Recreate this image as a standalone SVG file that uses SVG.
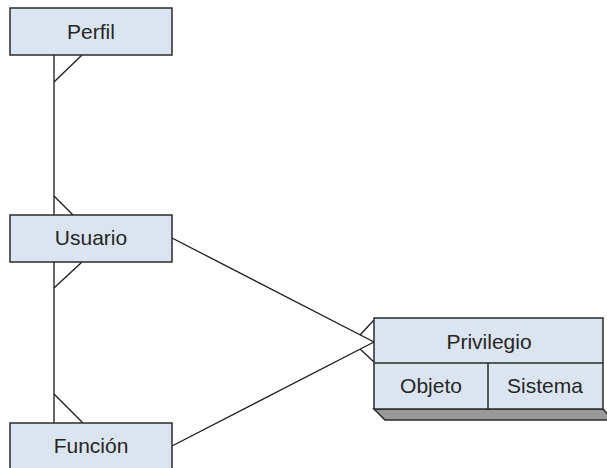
<svg xmlns="http://www.w3.org/2000/svg" width="607" height="468" viewBox="0 0 607 468">
<style>
.box{fill:#dbe5f1;stroke:#2b2b2b;stroke-width:1.5}
.shadow{fill:#999999;stroke:#2b2b2b;stroke-width:1.5}
.lbl{font-family:"Liberation Sans",Arial,sans-serif;font-size:21px;fill:#262626;text-anchor:middle}
.conn line{stroke:#1a1a1a;stroke-width:1.3;fill:none}
</style>
<rect x="0" y="0" width="607" height="468" fill="#ffffff"/>
<g id="connectors" class="conn">
<line x1="54" y1="55" x2="54" y2="215"/>
<line x1="54" y1="82" x2="82" y2="55"/>
<line x1="54" y1="196" x2="73" y2="215"/>
<line x1="54" y1="262" x2="54" y2="423"/>
<line x1="82" y1="262" x2="54" y2="288"/>
<line x1="54" y1="394" x2="83" y2="423"/>
<line x1="172" y1="238" x2="374" y2="342"/>
<line x1="360" y1="335" x2="374" y2="320"/>
<line x1="172" y1="446" x2="374" y2="342"/>
<line x1="360" y1="349" x2="374" y2="362"/>
</g>
<g id="perfil">
<rect class="box" x="10" y="8" width="162" height="47"/>
<text class="lbl" x="91" y="39">Perfil</text>
</g>
<g id="usuario">
<rect class="box" x="10" y="215" width="162" height="47"/>
<text class="lbl" x="91" y="245">Usuario</text>
</g>
<g id="funcion">
<rect class="box" x="10" y="423" width="162" height="50"/>
<text class="lbl" x="91" y="453">Función</text>
</g>
<g id="privilegio">
<polygon class="shadow" points="374,409 603,409 613,420 385,420"/>
<rect class="box" x="374" y="318" width="229" height="91"/>
<line x1="374" y1="363" x2="603" y2="363" stroke="#2b2b2b" stroke-width="1.5"/>
<line x1="488" y1="363" x2="488" y2="409" stroke="#2b2b2b" stroke-width="1.5"/>
<text class="lbl" x="489" y="349">Privilegio</text>
<text class="lbl" x="431" y="393">Objeto</text>
<text class="lbl" x="545" y="393">Sistema</text>
</g>
</svg>
